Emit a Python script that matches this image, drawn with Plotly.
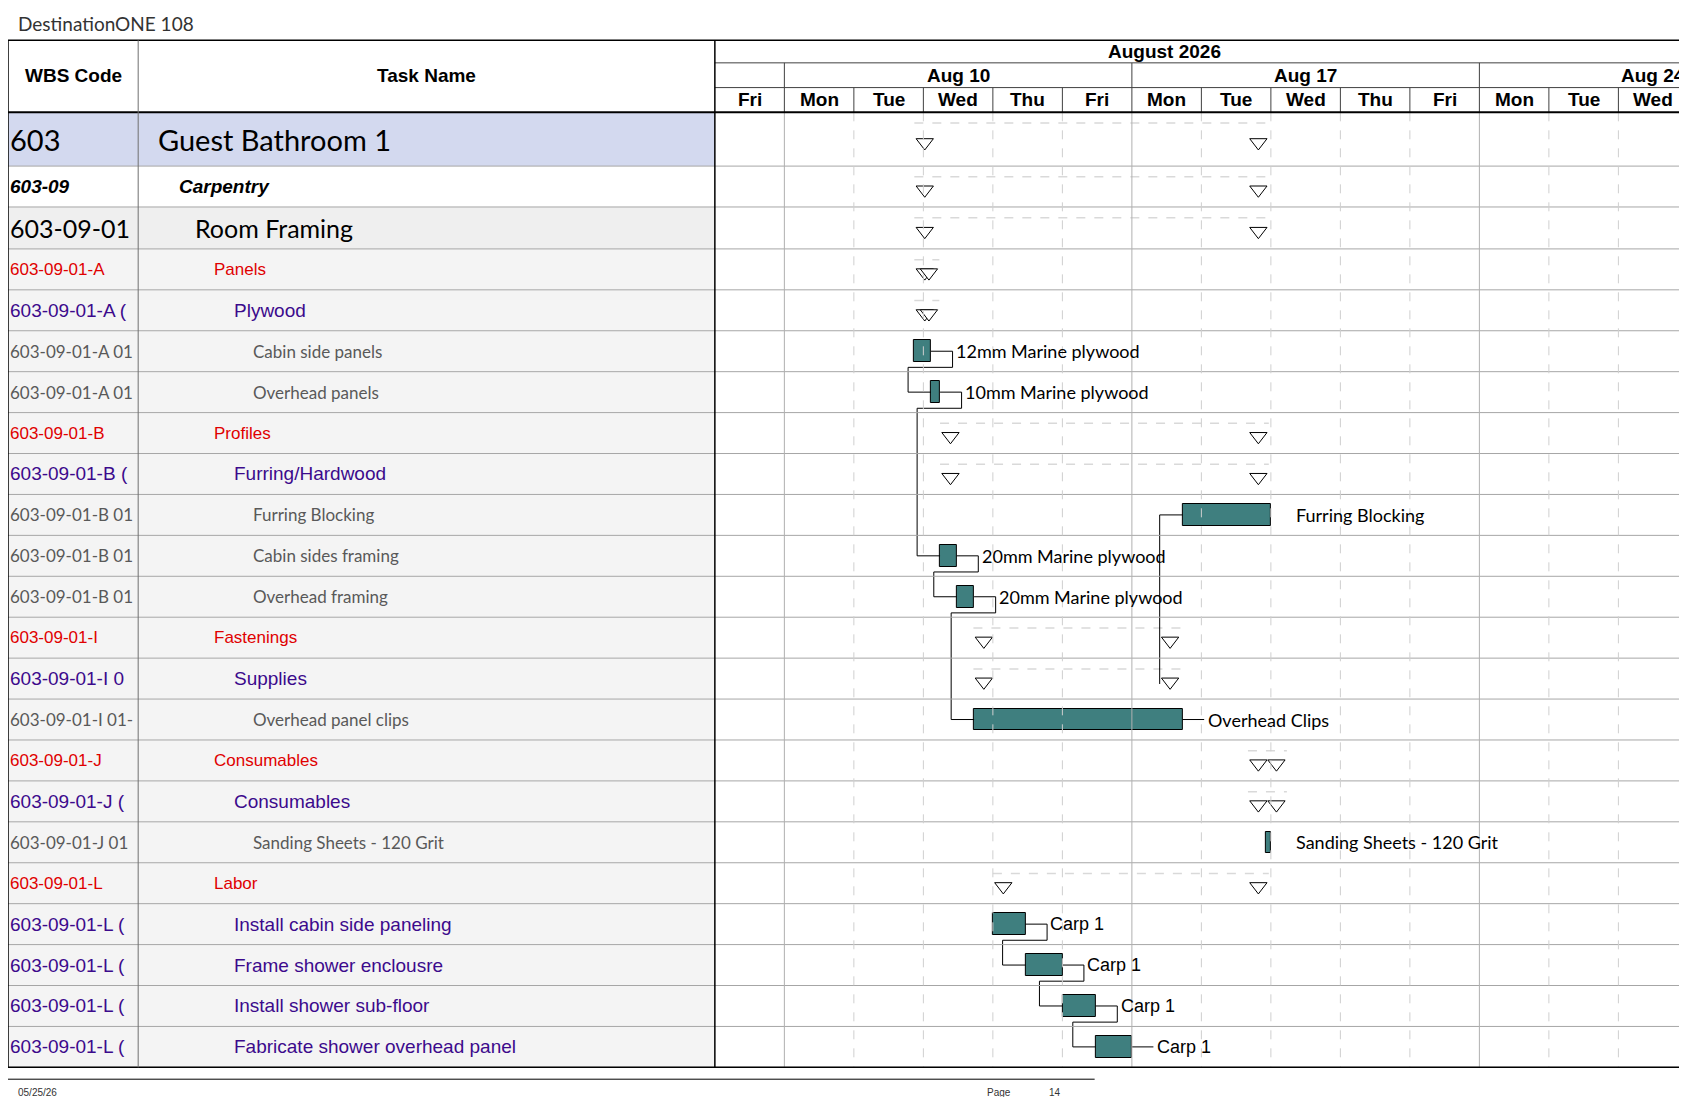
import plotly.graph_objects as go

# Gantt data: working-day index 0 = Fri Aug 7 2026, 1 = Mon Aug 10, ...
day_names = ["Fri", "Mon", "Tue", "Wed", "Thu", "Fri", "Mon", "Tue", "Wed", "Thu", "Fri", "Mon", "Tue", "Wed"]
week_labels = ["Aug 10", "Aug 17", "Aug 24"]
week_starts = [1, 6, 11]

wbs_codes = ["603", "603-09", "603-09-01", "603-09-01-A", "603-09-01-A (", "603-09-01-A 01", "603-09-01-A 01",
             "603-09-01-B", "603-09-01-B (", "603-09-01-B 01", "603-09-01-B 01", "603-09-01-B 01",
             "603-09-01-I", "603-09-01-I 0", "603-09-01-I 01-", "603-09-01-J", "603-09-01-J (",
             "603-09-01-J 01", "603-09-01-L", "603-09-01-L (", "603-09-01-L (", "603-09-01-L (", "603-09-01-L ("]
task_names = ["Guest Bathroom 1", "Carpentry", "Room Framing", "Panels", "Plywood", "Cabin side panels",
              "Overhead panels", "Profiles", "Furring/Hardwood", "Furring Blocking", "Cabin sides framing",
              "Overhead framing", "Fastenings", "Supplies", "Overhead panel clips", "Consumables", "Consumables",
              "Sanding Sheets - 120 Grit", "Labor", "Install cabin side paneling", "Frame shower enclousre",
              "Install shower sub-floor", "Fabricate shower overhead panel"]
levels = ["L1", "L2", "L3", "grp", "sub", "task", "task", "grp", "sub", "task", "task", "task",
          "grp", "sub", "task", "grp", "sub", "task", "grp", "sub", "sub", "sub", "sub"]

# bars: row index, start, end, label
bar_rows = [5, 6, 9, 10, 11, 14, 17, 19, 20, 21, 22]
bar_start = [2.86, 3.11, 6.73, 3.24, 3.48, 3.73, 7.93, 4.0, 4.47, 5.0, 5.48]
bar_end = [3.11, 3.24, 8.0, 3.48, 3.73, 6.73, 8.0, 4.47, 5.0, 5.48, 6.0]
bar_labels = ["12mm Marine plywood", "10mm Marine plywood", "Furring Blocking", "20mm Marine plywood",
              "20mm Marine plywood", "Overhead Clips", "Sanding Sheets - 120 Grit", "Carp 1", "Carp 1",
              "Carp 1", "Carp 1"]

# summary markers: row index, first triangle, second triangle
sum_rows = [0, 1, 2, 3, 4, 7, 8, 12, 13, 15, 16, 18]
sum_a = [3.02, 3.02, 3.02, 3.02, 3.02, 3.39, 3.39, 3.87, 3.87, 7.82, 7.82, 4.15]
sum_b = [7.82, 7.82, 7.82, 3.08, 3.08, 7.82, 7.82, 6.55, 6.55, 8.08, 8.08, 7.82]

# dependencies (pred bar index -> succ bar index)
links = [(0, 1), (1, 3), (3, 4), (4, 5), (7, 8), (8, 9), (9, 10)]

# layout in reference pixel units (1568 x 1020)
W, H = 1568, 1020
row_h = [50, 38, 39] + [38.05] * 20
row_top = [97.0]
for h in row_h[:-1]:
    row_top.append(row_top[-1] + h)
row_c = [t + h / 2 for t, h in zip(row_top, row_h)]
BOT = 985
GX0, GX1 = 657, 1566
DAYW = 64.6
def gx(d):
    return GX0 + d * DAYW

styles = {
    "L1": dict(bg="#d3d9ef", fam="Lato", size=29, color="black", x=138, b=False, i=False),
    "L2": dict(bg="white", fam="Liberation Sans", size=19, color="black", x=157, b=True, i=True),
    "L3": dict(bg="#efefef", fam="Lato", size=25, color="black", x=172, b=False, i=False),
    "grp": dict(bg="#f4f4f4", fam="Liberation Sans", size=17, color="#e00000", x=190, b=False, i=False),
    "sub": dict(bg="#f4f4f4", fam="Liberation Sans", size=19, color="#3c0a8c", x=208, b=False, i=False),
    "task": dict(bg="#f4f4f4", fam="Lato", size=17, color="#595959", x=226, b=False, i=False),
}

fig = go.Figure()
shapes = []
ann = []

def pline(x0, y0, x1, y1, color="#a6a6a6", width=1, dash="solid"):
    shapes.append(dict(type="line", xref="x2", yref="y", x0=x0, y0=y0, x1=x1, y1=y1,
                       line=dict(color=color, width=width, dash=dash), layer="above"))

def fmt(s, st):
    if st["b"]:
        s = "<b>" + s + "</b>"
    if st["i"]:
        s = "<i>" + s + "</i>"
    return s

# table rows
for i, (code, name, lv) in enumerate(zip(wbs_codes, task_names, levels)):
    st = styles[lv]
    shapes.append(dict(type="rect", xref="x2", yref="y", x0=0, x1=GX0, y0=row_top[i], y1=row_top[i] + row_h[i],
                       fillcolor=st["bg"], line=dict(width=0), layer="below"))
    ann.append(dict(x=0, y=row_c[i], xref="x2", yref="y", text=fmt(code, st), showarrow=False, xanchor="left",
                    font=dict(family=st["fam"], size=st["size"], color=st["color"])))
    ann.append(dict(x=st["x"], y=row_c[i], xref="x2", yref="y", text=fmt(name, st), showarrow=False, xanchor="left",
                    font=dict(family=st["fam"], size=st["size"], color=st["color"])))
    pline(0, row_top[i] + row_h[i], GX1, row_top[i] + row_h[i])

# gantt verticals
for d in range(1, 14):
    solid = d in week_starts
    pline(gx(d), 97, gx(d), BOT, color="#b0b0b0" if solid else "#cfcfcf", dash="solid" if solid else "dash")
    pline(gx(d), 74, gx(d), 97, color="#404040")
for d in week_starts:
    pline(gx(d), 51, gx(d), 74, color="#404040")
pline(GX0, 51, GX1, 51, color="#404040")
pline(GX0, 74, GX1, 74, color="#404040")

# header text
hf = dict(family="Liberation Sans", size=19, color="black")
ann.append(dict(x=61, y=63, xref="x2", yref="y", text="<b>WBS Code</b>", showarrow=False, font=hf))
ann.append(dict(x=389, y=63, xref="x2", yref="y", text="<b>Task Name</b>", showarrow=False, font=hf))
ann.append(dict(x=1075, y=40, xref="x2", yref="y", text="<b>August 2026</b>", showarrow=False, font=hf))
for lab, d in zip(week_labels, week_starts):
    xc = (gx(d) + gx(d + 5)) / 2
    if d == 11:
        xc = 1529
    ann.append(dict(x=xc, y=62.5, xref="x2", yref="y", text="<b>" + lab + "</b>", showarrow=False, font=hf))
for d, nm in enumerate(day_names):
    ann.append(dict(x=min(gx(d + 0.5), 1530), y=85.5, xref="x2", yref="y", text="<b>" + nm + "</b>",
                    showarrow=False, font=hf))

# borders
pline(0, 30, GX1, 30, color="black", width=1.5)
pline(0, 97, GX1, 97, color="black", width=2)
pline(0, BOT, GX1, BOT, color="black", width=1.5)
pline(0, 30, 0, BOT, color="black", width=1.5)
pline(GX1, 30, GX1, BOT, color="black", width=1.5)
pline(121, 30, 121, BOT, color="#707070")
pline(GX0, 30, GX0, BOT, color="black", width=1.5)

# title and footer
ann.append(dict(x=7, y=14, xref="x2", yref="y", text="DestinationONE 108", showarrow=False, xanchor="left",
                font=dict(family="Lato", size=19, color="#333333")))
pline(0, 996, 1010, 996, color="black", width=1)
small = dict(family="Liberation Sans", size=10, color="#333333")
ann.append(dict(x=7, y=1008, xref="x2", yref="y", text="05/25/26", showarrow=False, xanchor="left", font=small))
ann.append(dict(x=908, y=1008, xref="x2", yref="y", text="Page", showarrow=False, xanchor="left", font=small))
ann.append(dict(x=966, y=1008, xref="x2", yref="y", text="14", showarrow=False, xanchor="left", font=small))

# summary lines and triangles
for r, a, b in zip(sum_rows, sum_a, sum_b):
    fig.add_trace(go.Scatter(x=[a - 0.15, b + 0.15], y=[row_top[r] + 10, row_top[r] + 10], mode="lines",
                             line=dict(color="#d9d9d9", width=1.5, dash="dash"), hoverinfo="skip"))
    fig.add_trace(go.Scatter(x=[a, b], y=[row_c[r] + 3, row_c[r] + 3], mode="markers",
                             marker=dict(symbol="triangle-down", size=15, color="white",
                                         line=dict(color="black", width=1)), hoverinfo="skip"))

# dependency connectors
lx = []
ly = []
for p, s in links:
    yp = row_c[bar_rows[p]] + 15
    x0 = bar_end[p] + 0.31
    xs = bar_start[s] - 0.33
    lx += [x0, x0, xs, xs, bar_start[s], None]
    ly += [row_c[bar_rows[p]], yp, yp, row_c[bar_rows[s]], row_c[bar_rows[s]], None]
fig.add_trace(go.Scatter(x=lx, y=ly, mode="lines", line=dict(color="black", width=1), hoverinfo="skip"))
# furring blocking lead line
fig.add_trace(go.Scatter(x=[bar_start[2], bar_start[2] - 0.33, bar_start[2] - 0.33],
                         y=[row_c[9], row_c[9], row_c[13] + 5],
                         mode="lines", line=dict(color="black", width=1), hoverinfo="skip"))

# bars
fig.add_trace(go.Bar(orientation="h", base=bar_start, x=[e - s for s, e in zip(bar_start, bar_end)],
                     y=[row_c[r] for r in bar_rows], width=20,
                     marker=dict(color="#3f7f7f", line=dict(color="black", width=1)), hoverinfo="skip"))
for s, e, r, lab in zip(bar_start, bar_end, bar_rows, bar_labels):
    gap = lab in ("Furring Blocking", "Sanding Sheets - 120 Grit")
    if not gap:
        fig.add_trace(go.Scatter(x=[e, e + 0.31], y=[row_c[r], row_c[r]], mode="lines",
                                 line=dict(color="black", width=1), hoverinfo="skip"))
    fam = "Liberation Sans" if lab == "Carp 1" else "Lato"
    ann.append(dict(x=e + 0.33, y=row_c[r], xref="x", yref="y", text=lab, showarrow=False, xanchor="left",
                    font=dict(family=fam, size=18, color="black")))

fig.update_layout(
    width=1687, height=1097, margin=dict(l=0, r=0, t=0, b=0),
    paper_bgcolor="white", plot_bgcolor="rgba(0,0,0,0)", showlegend=False,
    shapes=shapes, annotations=ann, bargap=0,
    xaxis=dict(domain=[GX0 / W, GX1 / W], range=[0, (GX1 - GX0) / DAYW], visible=False,
               fixedrange=True, anchor="y"),
    xaxis2=dict(range=[0, W], visible=False, domain=[0, 1], anchor="y"),
    yaxis=dict(range=[H, 0], visible=False, domain=[0, 1], anchor="x"),
)
fig.write_html("out.html")
